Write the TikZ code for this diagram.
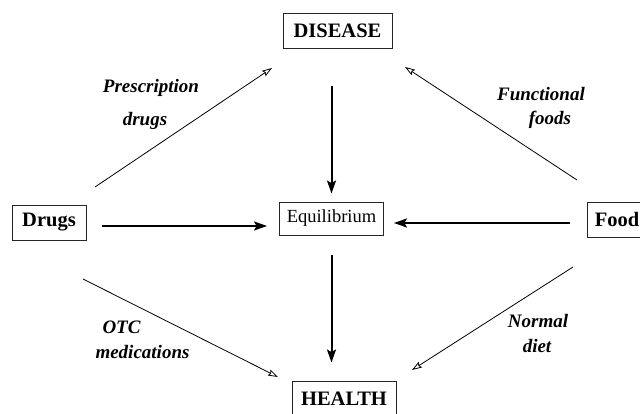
\documentclass[tikz,border=0pt]{standalone}
\usepackage{fontspec}
\setmainfont{Liberation Serif}
\usetikzlibrary{arrows.meta,calc}
\tikzset{
  box/.style={draw=black!85, line width=0.9pt, inner sep=0pt, align=center},
  bigbox/.style={box, font=\fontsize{20.5}{24}\selectfont\bfseries, minimum height=35pt},
  eqbox/.style={box, font=\fontsize{18.5}{22}\selectfont, minimum width=104pt, minimum height=33pt},
  lab/.style={font=\fontsize{19}{22}\selectfont\bfseries\itshape, anchor=base, inner sep=0pt},
  thickarrow/.style={line width=2pt, -{Stealth[length=13pt,width=9pt,inset=2.5pt]}},
  thinarrow/.style={line width=0.8pt, -{Stealth[open,length=10pt,width=6.5pt,inset=1.5pt,line width=0.8pt]}}
}
\begin{document}
\begin{tikzpicture}[x=1pt,y=-1pt]
\useasboundingbox (0,0) rectangle (640,414);
% nodes
\node[bigbox, minimum width=109pt] (disease) at (337.5,30.5) {DISEASE};
\node[bigbox, minimum width=74pt] (drugs) at (49,222.5) {Drugs};
\node[eqbox] (eq) at (331.5,218.5) {Equilibrium};
\node[bigbox, minimum width=60pt] (food) at (617,219.5) {Food};
\node[bigbox, minimum width=104pt] (health) at (344,398.5) {HEALTH};
% free ends of the diagonal connectors
\coordinate (pdA) at (95,187);
\coordinate (pdB) at (272,68);
\coordinate (ffA) at (577,180);
\coordinate (ffB) at (405,67);
\coordinate (otA) at (83,279);
\coordinate (otB) at (278,377);
\coordinate (ndA) at (573,267);
\coordinate (ndB) at (412,370);
% thick connectors
\draw[thickarrow, shorten <=38pt, shorten >=8pt] (eq.north |- disease.south) -- (eq.north);
\draw[thickarrow, shorten <=20pt, shorten >=18pt] (eq.south) -- (eq.south |- health.north);
\draw[thickarrow, shorten <=16pt, shorten >=12pt] ([yshift=-3.5pt]drugs.east) -- ([yshift=-3.5pt]drugs.east -| eq.west);
\draw[thickarrow, shorten <=17pt, shorten >=10pt] ([yshift=-3.5pt]food.west) -- ([yshift=-3.5pt]food.west -| eq.east);
% thin connectors
\draw[thinarrow] (pdA) -- (pdB);
\draw[thinarrow] (ffA) -- (ffB);
\draw[thinarrow] (otA) -- (otB);
\draw[thinarrow] (ndA) -- (ndB);
% labels
\node[lab] (l1) at (151,93) {Prescription};
\node[lab] (l2) at (145,125.5) {drugs};
\node[lab] (l3) at (541,101) {Functional};
\node[lab] (l4) at (550,125) {foods};
\node[lab] (l5) at (121.5,333) {OTC};
\node[lab] (l6) at (142.5,358) {medications};
\node[lab] (l7) at (538,327) {Normal};
\node[lab] (l8) at (537,352) {diet};
\end{tikzpicture}
\end{document}
